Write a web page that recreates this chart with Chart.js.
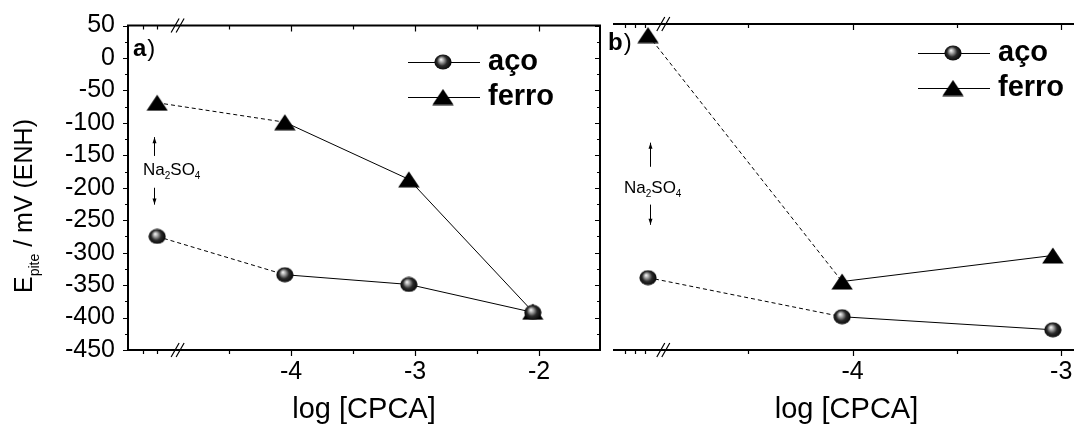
<!DOCTYPE html>
<html>
<head>
<meta charset="utf-8">
<script src="https://cdn.jsdelivr.net/npm/chart.js@4.4.0/dist/chart.umd.min.js"></script>
<style>
html, body { margin: 0; padding: 0; background: #fff; overflow: hidden; }
#wrap { position: relative; width: 1074px; height: 427px; overflow: hidden; }
canvas { position: absolute; top: 0; }
#cLeft { left: 0; }
#cRight { left: 600px; }
</style>
</head>
<body>
<div id="wrap">
  <canvas id="cLeft" width="610" height="427"></canvas>
  <canvas id="cRight" width="490" height="427"></canvas>
</div>
<script>
const seriesNames = ['aço', 'ferro'];

// panel a) - first point is Na2SO4 alone, drawn left of the axis break
const xA = [-5.08, -4.05, -3.05, -2.05];
const acoA = [-275, -334, -349, -392];
const ferroA = [-69, -99, -187, -391];

// panel b)
const xB = [-4.98, -4.05, -3.04];
const acoB = [-339, -399, -419];
const ferroB = [33, -345, -305];

const yTicks = [50, 0, -50, -100, -150, -200, -250, -300, -350, -400, -450];
const xTicksA = [-4, -3, -2];
const xTicksB = [-4, -3];

const FONT = "'Liberation Sans', Arial, sans-serif";
Chart.defaults.font.family = FONT;
Chart.defaults.color = '#000';

// shaded ball marker
function makeSphere() {
    const c = document.createElement('canvas');
    c.width = 18; c.height = 16;
    const g = c.getContext('2d');
    const grd = g.createRadialGradient(7, 5.5, 0.3, 9, 8, 9);
    grd.addColorStop(0, '#f4f4f4');
    grd.addColorStop(0.22, '#a8a8a8');
    grd.addColorStop(0.55, '#2a2a2a');
    grd.addColorStop(1, '#000');
    g.fillStyle = grd;
    g.beginPath();
    g.ellipse(9, 8, 8.6, 7.6, 0, 0, Math.PI * 2);
    g.fill();
    return c;
}
function makeTriangle() {
    const c = document.createElement('canvas');
    c.width = 22; c.height = 17;
    const g = c.getContext('2d');
    g.fillStyle = '#000';
    g.beginPath();
    g.moveTo(11, 0.5); g.lineTo(21.7, 16.5); g.lineTo(0.3, 16.5);
    g.closePath();
    g.fill();
    return c;
}
const sphereImg = makeSphere();
const triImg = makeTriangle();
const markers = [sphereImg, triImg];

function drawArrow(g, x, yFrom, yTo) {
    g.beginPath();
    g.moveTo(x + 0.5, yFrom);
    g.lineTo(x + 0.5, yTo);
    g.stroke();
    const d = yTo > yFrom ? 1 : -1;
    g.beginPath();
    g.moveTo(x + 0.5, yTo);
    g.lineTo(x - 1.5, yTo - d * 6);
    g.lineTo(x + 2.5, yTo - d * 6);
    g.closePath();
    g.fill();
}

function drawNa2SO4(g, x, base) {
    const parts = [['Na', 0], ['2', 1], ['SO', 0], ['4', 1]];
    parts.forEach(([t, sub]) => {
        g.font = (sub ? '10px ' : '17px ') + FONT;
        g.fillText(t, x, base + (sub ? 4 : 0));
        x += g.measureText(t).width;
    });
}

function makeFrame(p) {
    return {
        id: 'frame',
        beforeDatasetsDraw(chart) {
            const g = chart.ctx, a = chart.chartArea;
            const xs = chart.scales.x, ys = chart.scales.y;
            g.save();
            g.strokeStyle = '#000';
            g.fillStyle = '#000';

            // axis lines
            g.lineWidth = 2;
            g.beginPath();
            g.moveTo(a.left, a.top); g.lineTo(a.right + 1, a.top);
            g.moveTo(a.left, a.bottom); g.lineTo(a.right + 1, a.bottom);
            if (p.boxed) {
                g.moveTo(a.left, a.top - 1); g.lineTo(a.left, a.bottom + 1);
                g.moveTo(a.right, a.top - 1); g.lineTo(a.right, a.bottom + 1);
            }
            g.stroke();

            // x tick marks: out at the bottom, in at the top
            g.lineWidth = 1.2;
            const xMarks = [];
            p.xTicks.forEach(v => { xMarks.push([v, 6]); xMarks.push([v - 0.5, 4]); });
            p.stubs.forEach(v => xMarks.push([v, 4]));
            g.beginPath();
            xMarks.forEach(([v, len]) => {
                const px = Math.round(xs.getPixelForValue(v)) + 0.5;
                g.moveTo(px, a.bottom); g.lineTo(px, a.bottom + len);
                g.moveTo(px, a.top); g.lineTo(px, a.top + len);
            });
            // y tick marks on the boxed panel
            if (p.boxed) {
                yTicks.forEach(v => {
                    [[v, 5], [v - 25, 3]].forEach(([yv, len]) => {
                        if (yv < ys.min) return;
                        const py = Math.round(ys.getPixelForValue(yv)) + 0.5;
                        g.moveTo(a.left, py); g.lineTo(a.left - len, py);
                        g.moveTo(a.right, py); g.lineTo(a.right - len, py);
                    });
                });
            }
            g.stroke();

            // axis break marks
            const bx = xs.getPixelForValue(p.breakAt);
            g.lineWidth = 1.2;
            g.beginPath();
            [a.top, a.bottom].forEach(y => {
                for (let k = 0; k < 2; k++) {
                    g.moveTo(bx - 4 + k * 5, y + 7);
                    g.lineTo(bx + 4 + k * 5, y - 7);
                }
            });
            g.stroke();

            // Na2SO4 note with arrows
            const n = p.note;
            const ax = Math.round(xs.getPixelForValue(p.x[0])) + n.dx;
            g.lineWidth = 1;
            drawArrow(g, ax, ys.getPixelForValue(n.up[0]), ys.getPixelForValue(n.up[1]));
            drawArrow(g, ax, ys.getPixelForValue(n.down[0]), ys.getPixelForValue(n.down[1]));
            g.textBaseline = 'alphabetic';
            g.textAlign = 'left';
            drawNa2SO4(g, ax + n.textDx, ys.getPixelForValue(n.text));

            // panel tag
            g.font = 'bold 24px ' + FONT;
            g.fillText(p.tag, p.tagPos[0], p.tagPos[1]);
            const tw = g.measureText(p.tag).width;
            g.font = '24px ' + FONT;
            g.fillText(')', p.tagPos[0] + tw + 1, p.tagPos[1]);

            // y title with subscript
            if (p.boxed) {
                g.save();
                const segs = [['E', 25, 0], ['pite', 14, 7], [' / mV (ENH)', 25, 0]];
                let total = 0;
                segs.forEach(([t, s]) => { g.font = s + 'px ' + FONT; total += g.measureText(t).width; });
                g.translate(32, 206 + total / 2);
                g.rotate(-Math.PI / 2);
                let x = 0;
                segs.forEach(([t, s, off]) => {
                    g.font = s + 'px ' + FONT;
                    g.fillText(t, x, off);
                    x += g.measureText(t).width;
                });
                g.restore();
            }
            g.restore();
        },
        afterDatasetsDraw(chart) {
            const g = chart.ctx;
            g.save();
            g.strokeStyle = '#000';
            g.fillStyle = '#000';
            g.lineWidth = 1;
            g.textBaseline = 'alphabetic';
            g.textAlign = 'left';
            g.font = 'bold 29px ' + FONT;
            chart.data.datasets.forEach((ds, i) => {
                const lx = p.legend[0], ly = p.legend[1] + i * 35;
                g.beginPath();
                g.moveTo(lx, ly + 0.5); g.lineTo(lx + 72, ly + 0.5);
                g.stroke();
                const m = markers[i];
                g.drawImage(m, lx + 35 - m.width / 2, ly - m.height / 2);
                g.fillText(ds.label, lx + 80, ly + 8);
            });
            g.restore();
        }
    };
}

function makePanel(p) {
    const seg = { borderDash: c => c.p0DataIndex === 0 ? [4, 3] : undefined };
    const mk = (name, ys, i) => ({
        label: name,
        data: p.x.map((x, k) => ({ x: x, y: ys[k] })),
        showLine: true,
        borderColor: '#000',
        borderWidth: 1,
        pointStyle: markers[i],
        pointRadius: 9,
        segment: seg,
        clip: false
    });
    return new Chart(document.getElementById(p.canvas), {
        type: 'scatter',
        data: { datasets: [mk(seriesNames[0], p.aco, 0), mk(seriesNames[1], p.ferro, 1)] },
        options: {
            responsive: false,
            animation: false,
            events: [],
            layout: { padding: { top: 24, bottom: 0, left: p.padLeft, right: p.padRight } },
            plugins: { legend: { display: false }, tooltip: { enabled: false } },
            scales: {
                x: {
                    type: 'linear',
                    min: p.xMin, max: p.xMax,
                    grid: { display: false, drawTicks: false },
                    border: { display: false },
                    afterBuildTicks: s => { s.ticks = p.xTicks.map(v => ({ value: v })); },
                    afterFit: s => { s.height = 77; },
                    ticks: { font: { size: 25, lineHeight: 1 }, padding: 10, autoSkip: false, maxRotation: 0, callback: v => String(v) },
                    title: { display: true, text: 'log [CPCA]', font: { size: 29, lineHeight: 1 }, padding: { top: 0, bottom: 3 } }
                },
                y: {
                    type: 'linear',
                    display: p.boxed,
                    min: -450, max: 50,
                    grid: { display: false, drawTicks: false },
                    border: { display: false },
                    afterBuildTicks: s => { s.ticks = yTicks.map(v => ({ value: v })); },
                    afterFit: s => { s.width = p.boxed ? 128 : 0; },
                    ticks: { font: { size: 25, lineHeight: 1 }, padding: 13, autoSkip: false, callback: v => String(v) }
                }
            }
        },
        plugins: [makeFrame(p)]
    });
}

makePanel({
    canvas: 'cLeft', boxed: true,
    x: xA, aco: acoA, ferro: ferroA, xTicks: xTicksA,
    xMin: -5.315, xMax: -1.508, padLeft: 0, padRight: 10,
    breakAt: -4.935, stubs: [-5.194, -5.08],
    note: { dx: -3, textDx: -11, up: [-151, -122], down: [-200, -226], text: -181 },
    tag: 'a', tagPos: [133, 56],
    legend: [408, 62]
});

makePanel({
    canvas: 'cRight', boxed: false,
    x: xB, aco: acoB, ferro: ferroB, xTicks: xTicksB,
    xMin: -5.148, xMax: -2.91, padLeft: 13, padRight: 7,
    breakAt: -4.919, stubs: [-5.09, -5.043, -4.995],
    note: { dx: 2, textDx: -26, up: [-169, -132], down: [-227, -258], text: -209 },
    tag: 'b', tagPos: [8, 50],
    legend: [318, 53]
});
</script>
</body>
</html>
